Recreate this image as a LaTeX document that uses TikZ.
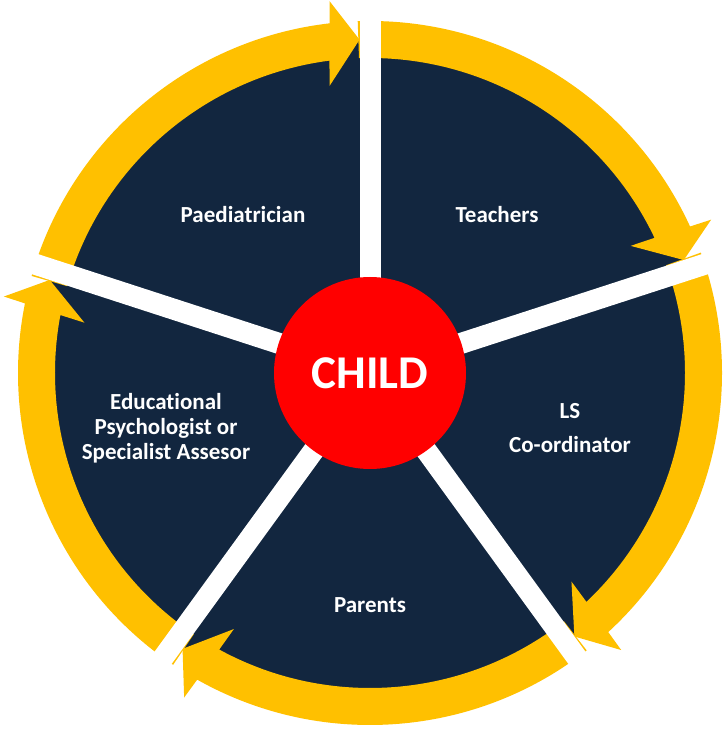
\documentclass[tikz,border=0pt]{standalone}
\usepackage{fontspec}
\setmainfont{Carlito}[Ligatures={NoCommon,NoRare,NoDiscretionary}]
\definecolor{navy}{HTML}{12263F}
\definecolor{gold}{HTML}{FFC000}
\definecolor{childred}{HTML}{FF0000}
\begin{document}
\begin{tikzpicture}[x=1pt,y=1pt,
  lbl/.style={text=white, font=\bfseries\fontsize{23}{25}\selectfont, align=center, inner sep=0pt},
  gap/.style={white, line width=21pt},
  band/.style={fill=gold}]
\useasboundingbox (-370,-357) rectangle (357,373);
% navy disc
\fill[navy] (0,0) circle[radius=333pt];
% yellow arrow bands
\foreach \A in {90,18,-54,-126,162} {
  \pgfmathsetmacro\Aa{\A+2}
  \pgfmathsetmacro\Bo{\A-72+6.6}
  \pgfmathsetmacro\Bp{\A-72+6.2}
  \pgfmathsetmacro\Bt{\A-72+1.8}
  \pgfmathsetmacro\Bq{\A-72+8.0}
  \pgfmathsetmacro\Bi{\A-72+7.4}
  \fill[band] (\Aa:352) arc[start angle=\Aa, end angle=\Bo, radius=352pt]
     -- (\Bp:374) -- (\Bt:333.5) -- (\Bq:290) -- (\Bi:315)
     arc[start angle=\Bi, end angle=\Aa, radius=315pt] -- cycle;
}
% white gaps
\foreach \A in {90,18,-54,-126,162} {
  \draw[gap] (0,0) -- (\A:385);
}
% centre
\node[circle, fill=childred, minimum size=192pt, inner sep=0pt, text=white,
      font=\bfseries\fontsize{47}{50}\selectfont] (child) at (0,0) {CHILD};
% labels
\node[lbl] (paed) at (-127,158) {Paediatrician};
\node[lbl] (teach) at (127,158) {Teachers};
\node[lbl] (ls) at (200,-55) {LS\\[9pt]Co-ordinator};
\node[lbl] (par) at (0,-232) {Parents};
\node[lbl] (edpsy) at (-204,-55) {Educational\\Psychologist or\\Specialist Assesor};
\end{tikzpicture}
\end{document}
